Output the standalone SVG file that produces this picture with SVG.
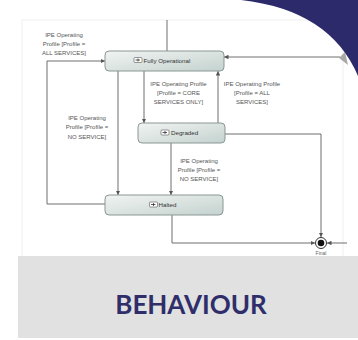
<svg xmlns="http://www.w3.org/2000/svg" width="358" height="340" viewBox="0 0 358 340">
  <defs>
    <linearGradient id="stateFill" x1="0" y1="0" x2="1" y2="1">
      <stop offset="0" stop-color="#f1f4f3"/>
      <stop offset="1" stop-color="#c4d2ce"/>
    </linearGradient>
    <marker id="arrow" viewBox="0 0 6 6" refX="6" refY="3" markerWidth="4.5" markerHeight="4.5" orient="auto" markerUnits="userSpaceOnUse">
      <path d="M0,0 L6,3 L0,6 Z" fill="#555"/>
    </marker>
    <style>
      .state rect.box { fill: url(#stateFill); stroke: #8b9794; stroke-width: 1; }
      .state text { font-family: "Liberation Sans", Arial, sans-serif; font-size: 6.2px; fill: #333; }
      .icon { fill: #fff; stroke: #555; stroke-width: 0.6; }
      .iconmark { stroke: #333; stroke-width: 0.8; fill: none; }
      .wire { fill: none; stroke: #6f6f6f; stroke-width: 1; }
      .label { font-family: "Liberation Sans", Arial, sans-serif; font-size: 6px; fill: #555; text-anchor: middle; }
    </style>
  </defs>

  <!-- page -->
  <rect x="0" y="0" width="358" height="340" fill="#ffffff"/>
  <rect x="22" y="20" width="321" height="240" fill="none" stroke="#efefef" stroke-width="1"/>

  <!-- transitions -->
  <g id="connectors">
    <line class="wire" x1="167" y1="20" x2="167" y2="51"/>
    <line class="wire" x1="340" y1="57" x2="224" y2="57" marker-end="url(#arrow)"/>
    <polyline class="wire" points="105,204 47,204 47,61 105,61" marker-end="url(#arrow)"/>
    <line class="wire" x1="118" y1="71" x2="118" y2="195" marker-end="url(#arrow)"/>
    <line class="wire" x1="144" y1="71" x2="144" y2="123" marker-end="url(#arrow)"/>
    <line class="wire" x1="218" y1="123" x2="218" y2="71" marker-end="url(#arrow)"/>
    <line class="wire" x1="171" y1="143" x2="171" y2="195" marker-end="url(#arrow)"/>
    <polyline class="wire" points="225,134 321,134 321,237" marker-end="url(#arrow)"/>
    <polyline class="wire" points="172,215 172,243 315,243" marker-end="url(#arrow)"/>
    <line class="wire" x1="347" y1="243" x2="327" y2="243" marker-end="url(#arrow)"/>
  </g>

  <!-- transition guards -->
  <g id="guards">
    <text class="label" x="64" y="36.5">IPE Operating</text>
    <text class="label" x="64" y="46">Profile  [Profile =</text>
    <text class="label" x="64" y="55">ALL SERVICES]</text>

    <text class="label" x="87" y="119.5">IPE Operating</text>
    <text class="label" x="87" y="129">Profile  [Profile =</text>
    <text class="label" x="87" y="138.5">NO SERVICE]</text>

    <text class="label" x="178.5" y="86">IPE Operating Profile</text>
    <text class="label" x="178.5" y="95">[Profile = CORE</text>
    <text class="label" x="178.5" y="104">SERVICES ONLY]</text>

    <text class="label" x="252" y="86">IPE Operating Profile</text>
    <text class="label" x="252" y="95">[Profile = ALL</text>
    <text class="label" x="252" y="104">SERVICES]</text>

    <text class="label" x="199" y="163">IPE Operating</text>
    <text class="label" x="199" y="172">Profile  [Profile =</text>
    <text class="label" x="199" y="181">NO SERVICE]</text>
  </g>

  <!-- states -->
  <g id="fully-operational" class="state">
    <rect class="box" x="105" y="51" width="119" height="20" rx="4"/>
    <rect class="icon" x="134" y="57.5" width="8" height="5" rx="1"/>
    <path class="iconmark" d="M135.5,60 H140 M138,58.5 V61.5"/>
    <text x="143.5" y="62.5">Fully Operational</text>
  </g>

  <g id="degraded" class="state">
    <rect class="box" x="138" y="123" width="87" height="20" rx="4"/>
    <rect class="icon" x="161" y="130" width="8" height="5" rx="1"/>
    <path class="iconmark" d="M162.5,132.5 H167 M165,131 V134"/>
    <text x="171" y="135">Degraded</text>
  </g>

  <g id="halted" class="state">
    <rect class="box" x="105" y="195" width="118" height="20" rx="4"/>
    <rect class="icon" x="149.5" y="202" width="8" height="5" rx="1"/>
    <path class="iconmark" d="M151,204.5 H155.5 M153.5,203 V206"/>
    <text x="158.5" y="207">Halted</text>
  </g>

  <g id="final">
    <circle cx="321" cy="243" r="5.5" fill="#fff" stroke="#333" stroke-width="1"/>
    <circle cx="321" cy="243" r="3.3" fill="#111"/>
    <text x="321" y="255" font-family="Liberation Sans, Arial, sans-serif" font-size="5px" fill="#666" text-anchor="middle">Final</text>
  </g>

  <!-- corner decoration -->
  <polygon points="339,58 345,52 348,65" fill="#a9a9a9"/>
  <path d="M241,0 Q330,10 358,76 L358,0 Z" fill="#2c2a6a"/>

  <!-- title banner -->
  <rect x="18" y="256" width="340" height="82" fill="#e1e1e1"/>
  <text x="191" y="314" font-family="Lato, 'Open Sans', sans-serif" font-weight="700" font-size="26" fill="#2f2e6b" text-anchor="middle">BEHAVIOUR</text>
</svg>
